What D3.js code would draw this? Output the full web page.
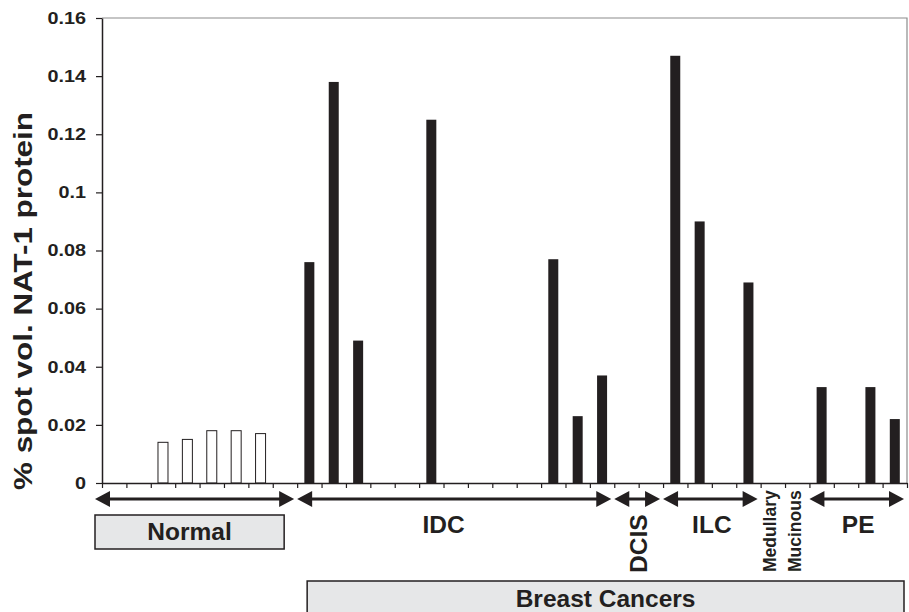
<!DOCTYPE html>
<html lang="en">
<head>
<meta charset="utf-8">
<title>NAT-1 protein</title>
<script src="https://cdn.jsdelivr.net/npm/d3@7"></script>
<style>
body { margin: 0; background: #fff; }
text { font-family: "Liberation Sans", Arial, Helvetica, sans-serif; font-weight: bold; fill: #231f20; }
</style>
</head>
<body>
<div id="chart"></div>
<script>
// one value per sample (0 = no bar)
var values = [0, 0, 0.014, 0.015, 0.018, 0.018, 0.017, 0,
              0.076, 0.138, 0.049, 0, 0, 0.125, 0, 0, 0, 0, 0.077, 0.023, 0.037,
              0, 0,
              0.147, 0.090, 0, 0.069,
              0, 0,
              0.033, 0, 0.033, 0.022];
var yTicks = [0, 0.02, 0.04, 0.06, 0.08, 0.1, 0.12, 0.14, 0.16];
var yTickLabels = ["0", "0.02", "0.04", "0.06", "0.08", "0.1", "0.12", "0.14", "0.16"];
// sample ranges [from, to) for each arrow group
var groups = [
    {name: "Normal", from: 0, to: 8},
    {name: "IDC", from: 8, to: 21},
    {name: "DCIS", from: 21, to: 23},
    {name: "ILC", from: 23, to: 27},
    {name: "PE", from: 29, to: 33}
];
var singles = [{name: "Medullary", at: 27}, {name: "Mucinous", at: 28}];
var normalCount = 8;

var w = 909, h = 612;
var pLeft = 102, pRight = 907, pTop = 18, pBottom = 483;
var ink = "#231f20";

var svg = d3.select("#chart").append("svg")
            .attr("width", w)
            .attr("height", h);

// scales
var xScale = d3.scaleBand()
               .domain(d3.range(values.length))
               .range([pLeft, pRight])
               .paddingInner(0.59)
               .paddingOuter(0.295);
var edge = d3.scaleLinear().domain([0, values.length]).range([pLeft, pRight]);
var yScale = d3.scaleLinear().domain([0, 0.16]).range([pBottom, pTop]);

// stretch text horizontally like the original figure
function stretch(sel, k) {
    sel.each(function() {
        var len = this.getComputedTextLength();
        d3.select(this).attr("textLength", len * k).attr("lengthAdjust", "spacingAndGlyphs");
    });
}

// frame (top + right)
svg.append("path")
   .attr("d", "M" + pLeft + "," + pTop + "H" + pRight + "V" + pBottom)
   .attr("fill", "none")
   .attr("stroke", "#8c8c8c")
   .attr("stroke-width", 1.2);

// bars
svg.selectAll("rect.bar")
   .data(values.map(function(v, i){ return {i: i, v: v}; }).filter(function(d){ return d.v > 0; }))
   .enter()
   .append("rect")
   .attr("class", "bar")
   .attr("x", function(d){ return xScale(d.i); })
   .attr("y", function(d){ return yScale(d.v); })
   .attr("width", xScale.bandwidth())
   .attr("height", function(d){ return pBottom - yScale(d.v); })
   .attr("fill", function(d){ return d.i < normalCount ? "#fff" : ink; })
   .attr("stroke", function(d){ return d.i < normalCount ? ink : "none"; })
   .attr("stroke-width", 1);

// axes
var yAxis = d3.axisLeft(yScale)
              .tickValues(yTicks)
              .tickFormat(function(d, i){ return yTickLabels[i]; })
              .tickSize(6)
              .tickSizeOuter(0)
              .tickPadding(10);
var gy = svg.append("g")
            .attr("transform", "translate(" + pLeft + ",0)")
            .call(yAxis);
gy.attr("font-family", null).attr("font-size", null);
gy.selectAll("text").style("font-size", "16.5px").call(stretch, 1.2);
gy.selectAll("line").attr("stroke", ink).attr("stroke-width", 1.2);
gy.select(".domain").attr("stroke", ink).attr("stroke-width", 1.5);

var xAxis = d3.axisBottom(edge)
              .tickValues(d3.range(values.length + 1))
              .tickFormat("")
              .tickSize(5)
              .tickSizeOuter(0);
var gx = svg.append("g")
            .attr("transform", "translate(0," + pBottom + ")")
            .call(xAxis);
gx.selectAll("line").attr("stroke", ink).attr("stroke-width", 1.2);
gx.select(".domain").attr("stroke", ink).attr("stroke-width", 1.5);

// y title
svg.append("text")
   .attr("transform", "translate(32,490) rotate(-90)")
   .style("font-size", "25.5px")
   .attr("textLength", 378)
   .attr("lengthAdjust", "spacingAndGlyphs")
   .text("% spot vol. NAT-1 protein");

// double arrows
var arrowY = 499, headL = 15, headH = 8;
function arrow(x0, x1) {
    svg.append("line")
       .attr("x1", x0 + headL - 2).attr("x2", x1 - headL + 2)
       .attr("y1", arrowY).attr("y2", arrowY)
       .attr("stroke", ink).attr("stroke-width", 3);
    svg.append("path")
       .attr("d", "M" + x0 + "," + arrowY + "L" + (x0 + headL) + "," + (arrowY - headH) +
                  "V" + (arrowY + headH) + "Z" +
                  "M" + x1 + "," + arrowY + "L" + (x1 - headL) + "," + (arrowY - headH) +
                  "V" + (arrowY + headH) + "Z")
       .attr("fill", ink);
}
groups.forEach(function(g) {
    var x0 = edge(g.from) + (g.from === 0 ? -7 : 0);
    var x1 = edge(g.to) - 3;
    arrow(x0, x1);
});

// group labels
svg.append("text").attr("x", edge(14)).attr("y", 533).attr("text-anchor", "middle")
   .style("font-size", "24.5px").text("IDC");
svg.append("text").attr("x", edge(25)).attr("y", 533).attr("text-anchor", "middle")
   .style("font-size", "24.5px").text("ILC");
svg.append("text").attr("x", edge(31)).attr("y", 533).attr("text-anchor", "middle")
   .style("font-size", "24.5px").text("PE");
svg.append("text")
   .attr("transform", "translate(" + edge(22) + ",573) rotate(-90)")
   .attr("dy", "0.36em")
   .style("font-size", "24.5px").text("DCIS");
svg.selectAll("text.single")
   .data(singles)
   .enter()
   .append("text")
   .attr("class", "single")
   .attr("transform", function(d){ return "translate(" + (xScale(d.at) + xScale.bandwidth() / 2) + ",572) rotate(-90)"; })
   .attr("dy", 3.5)
   .style("font-size", "17.5px")
   .text(function(d){ return d.name; });

// boxed labels
function box(x0, x1, y0, y1, label, baseline) {
    svg.append("rect")
       .attr("x", x0).attr("y", y0)
       .attr("width", x1 - x0).attr("height", y1 - y0)
       .attr("fill", "#e6e7e8")
       .attr("stroke", ink)
       .attr("stroke-width", 1.5);
    svg.append("text")
       .attr("x", (x0 + x1) / 2).attr("y", baseline)
       .attr("text-anchor", "middle")
       .style("font-size", "24.5px")
       .text(label);
}
box(edge(0) - 7, edge(8) - 13, 515, 549, "Normal", 540);
box(edge(8) + 10, edge(33) - 3, 581, 630, "Breast Cancers", 607);
</script>
</body>
</html>
